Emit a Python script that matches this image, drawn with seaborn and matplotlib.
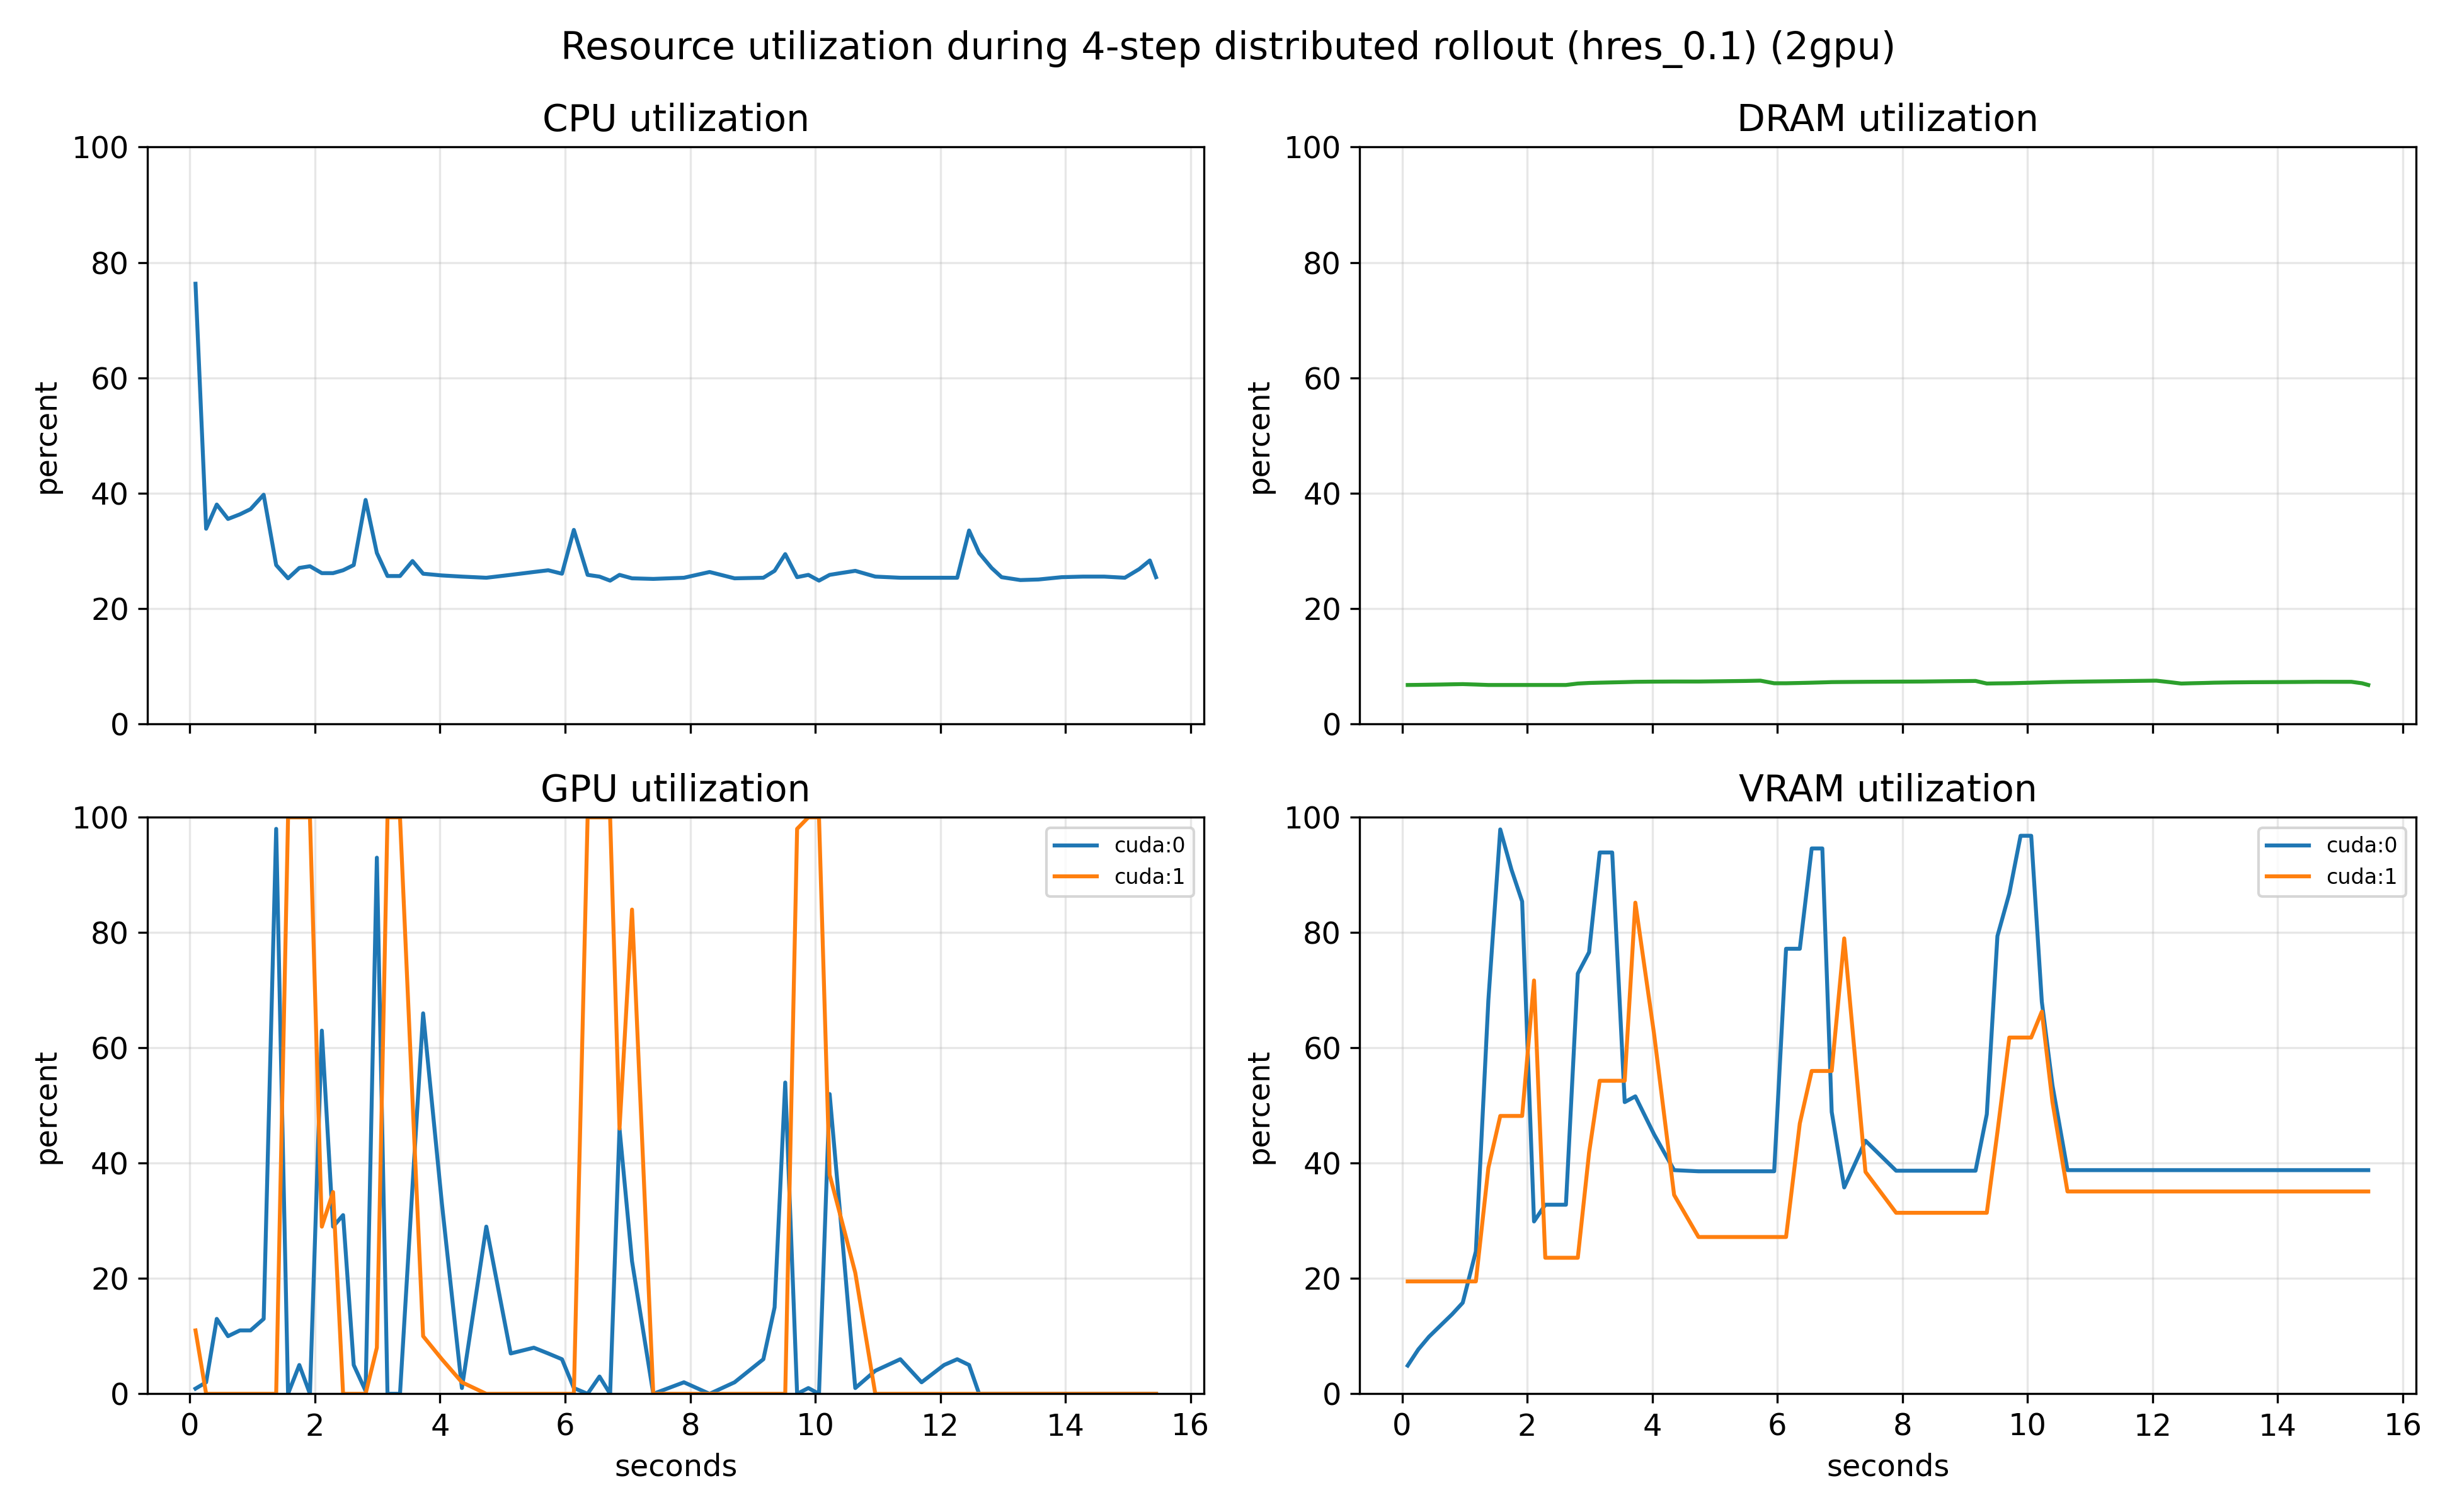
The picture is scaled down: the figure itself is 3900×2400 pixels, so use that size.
import matplotlib
matplotlib.use("Agg")
import matplotlib.pyplot as plt
import seaborn as sns
import pandas as pd

# sample times (s)
seconds = [0.09, 0.26, 0.43, 0.61, 0.80, 0.97, 1.18, 1.38, 1.57, 1.75,
           1.92, 2.11, 2.29, 2.45, 2.62, 2.81, 2.99, 3.16, 3.36, 3.56,
           3.73, 4.03, 4.35, 4.74, 5.13, 5.50, 5.73, 5.95, 6.14, 6.36,
           6.55, 6.72, 6.87, 7.07, 7.41, 7.90, 8.31, 8.71, 9.17, 9.35,
           9.52, 9.71, 9.89, 10.06, 10.23, 10.40, 10.64, 10.96, 11.36, 11.70,
           12.06, 12.27, 12.46, 12.62, 12.82, 12.98, 13.28, 13.57, 13.94, 14.28,
           14.62, 14.95, 15.18, 15.35, 15.45]

cpu_pct = [76.3, 33.8, 38.0, 35.5, 36.3, 37.2, 39.7, 27.5, 25.2, 27.0,
           27.3, 26.1, 26.1, 26.6, 27.5, 38.8, 29.6, 25.6, 25.6, 28.2,
           26.0, 25.7, 25.5, 25.3, 25.8, 26.3, 26.6, 26.0, 33.6, 25.8,
           25.5, 24.8, 25.8, 25.2, 25.1, 25.3, 26.3, 25.2, 25.3, 26.5,
           29.4, 25.4, 25.8, 24.8, 25.8, 26.1, 26.5, 25.5, 25.3, 25.3,
           25.3, 25.3, 33.5, 29.6, 27.0, 25.4, 24.9, 25.0, 25.4, 25.5,
           25.5, 25.3, 26.8, 28.3, 25.4]

dram_pct = [6.70, 6.72, 6.75, 6.78, 6.82, 6.85, 6.78, 6.70, 6.70, 6.70,
            6.70, 6.70, 6.70, 6.70, 6.70, 6.95, 7.05, 7.10, 7.15, 7.20,
            7.25, 7.28, 7.30, 7.30, 7.35, 7.40, 7.45, 7.00, 7.00, 7.05,
            7.10, 7.15, 7.20, 7.22, 7.25, 7.28, 7.30, 7.35, 7.40, 6.95,
            6.98, 7.00, 7.05, 7.10, 7.15, 7.20, 7.25, 7.30, 7.35, 7.40,
            7.45, 7.20, 6.95, 7.00, 7.05, 7.10, 7.15, 7.18, 7.20, 7.22,
            7.25, 7.25, 7.25, 7.00, 6.70]

gpu0_pct = [0.9, 2, 13, 10, 11, 11, 13, 98, 0, 5,
            0, 63, 29, 31, 5, 0.5, 93, 0, 0, 36,
            66, 33, 1, 29, 7, 8, 7, 6, 1, 0,
            3, 0, 46, 23, 0, 2, 0, 2, 6, 15,
            54, 0, 1, 0, 52, 31, 1, 4, 6, 2,
            5, 6, 5, 0, 0, 0, 0, 0, 0, 0,
            0, 0, 0, 0, 0]

gpu1_pct = [11, 0, 0, 0, 0, 0, 0, 0, 100, 100,
            100, 29, 35, 0, 0, 0, 8, 100, 100, 51,
            10, 6, 2, 0, 0, 0, 0, 0, 0, 100,
            100, 100, 46, 84, 0, 0, 0, 0, 0, 0,
            0, 98, 100, 100, 38, 31, 21, 0, 0, 0,
            0, 0, 0, 0, 0, 0, 0, 0, 0, 0,
            0, 0, 0, 0, 0]

vram0_pct = [4.9, 7.7, 9.9, 11.8, 13.8, 15.8, 24.7, 68.3, 97.9, 90.9,
             85.4, 29.9, 32.8, 32.8, 32.8, 72.9, 76.6, 93.9, 93.9, 50.6,
             51.6, 45.0, 38.8, 38.6, 38.6, 38.6, 38.6, 38.6, 77.2, 77.2,
             94.6, 94.6, 48.9, 35.8, 43.9, 38.7, 38.7, 38.7, 38.7, 48.5,
             79.4, 86.8, 96.8, 96.8, 68.0, 53.5, 38.8, 38.8, 38.8, 38.8,
             38.8, 38.8, 38.8, 38.8, 38.8, 38.8, 38.8, 38.8, 38.8, 38.8,
             38.8, 38.8, 38.8, 38.8, 38.8]

vram1_pct = [19.5, 19.5, 19.5, 19.5, 19.5, 19.5, 19.5, 39.2, 48.2, 48.2,
             48.2, 71.7, 23.6, 23.6, 23.6, 23.6, 41.8, 54.3, 54.3, 54.3,
             85.2, 62.4, 34.5, 27.2, 27.2, 27.2, 27.2, 27.2, 27.2, 46.9,
             56.0, 56.0, 56.0, 79.0, 38.5, 31.4, 31.4, 31.4, 31.4, 31.4,
             45.4, 61.8, 61.8, 61.8, 66.3, 50.6, 35.1, 35.1, 35.1, 35.1,
             35.1, 35.1, 35.1, 35.1, 35.1, 35.1, 35.1, 35.1, 35.1, 35.1,
             35.1, 35.1, 35.1, 35.1, 35.1]

devices = ["cuda:0", "cuda:1"]

plt.rcParams["font.size"] = 11.5

fig, axes = plt.subplots(2, 2, figsize=(13, 8), sharex=True)
fig.suptitle("Resource utilization during 4-step distributed rollout (hres_0.1) (2gpu)", fontsize=14.5)

ax = axes[0, 0]
sns.lineplot(x=seconds, y=cpu_pct, ax=ax, color="C0")
ax.set_title("CPU utilization", fontsize=14)

ax = axes[0, 1]
sns.lineplot(x=seconds, y=dram_pct, ax=ax, color="C2")
ax.set_title("DRAM utilization", fontsize=14)

ax = axes[1, 0]
for dev, vals, col in zip(devices, [gpu0_pct, gpu1_pct], ["C0", "C1"]):
    sns.lineplot(x=seconds, y=vals, ax=ax, color=col, label=dev)
ax.set_title("GPU utilization", fontsize=14)
ax.legend(fontsize=8, loc="upper right")

ax = axes[1, 1]
for dev, vals, col in zip(devices, [vram0_pct, vram1_pct], ["C0", "C1"]):
    sns.lineplot(x=seconds, y=vals, ax=ax, color=col, label=dev)
ax.set_title("VRAM utilization", fontsize=14)
ax.legend(fontsize=8, loc="upper right")

for ax in axes.flat:
    ax.set_ylim(0, 100)
    ax.set_ylabel("percent")
    ax.grid(True, alpha=0.3)
for ax in axes[1]:
    ax.set_xlabel("seconds")

plt.tight_layout()
plt.savefig("out.png", dpi=300)
